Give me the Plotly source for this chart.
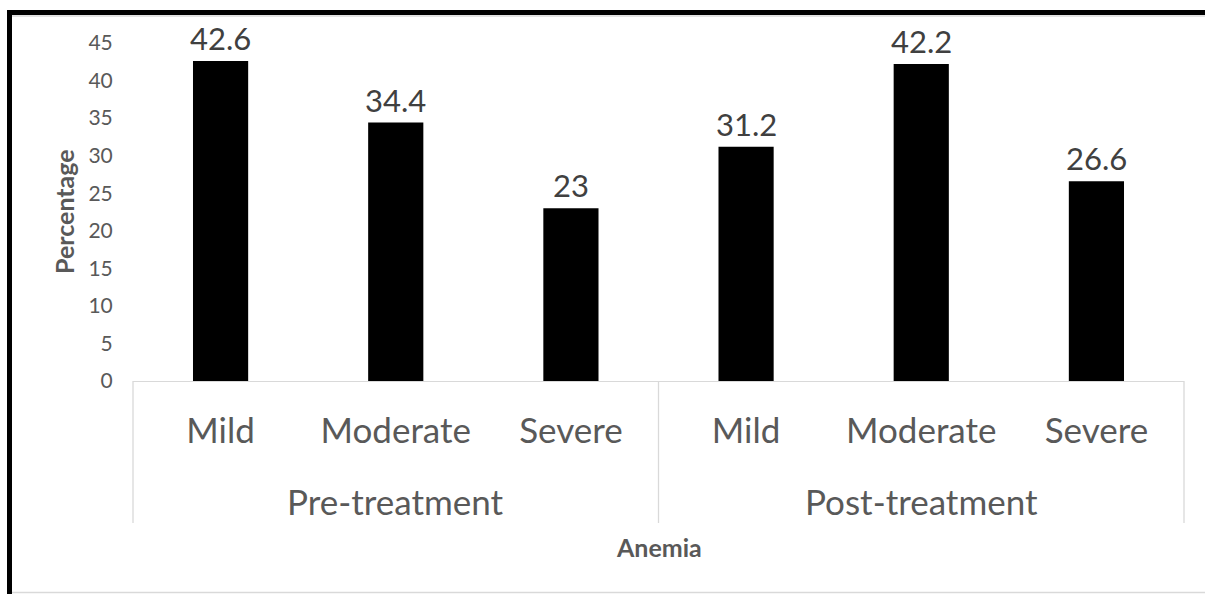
import plotly.graph_objects as go

# Anemia severity before and after treatment (percent of patients)
groups = ["Pre-treatment", "Post-treatment"]
severity = ["Mild", "Moderate", "Severe"]
pre_values = [42.6, 34.4, 23]
post_values = [31.2, 42.2, 26.6]

values = pre_values + post_values
tick_text = severity * len(groups)
positions = list(range(len(values)))

W, H = 1205, 594
L, R, T, B = 133, 21, 43, 213
PW, PH = W - L - R, H - T - B
x_range = [-0.5, len(values) - 0.5]
y_range = [0, 45]

FONT = "Lato, Carlito, Calibri, sans-serif"
GREY_TXT = "#595959"
GRID = "#d9d9d9"


def px_x(px):
    return (px - L) / PW


def px_y(py):
    return (H - B - py) / PH


def data_to_paper_x(v):
    return (v - x_range[0]) / (x_range[1] - x_range[0])


fig = go.Figure(
    go.Bar(
        x=positions,
        y=values,
        width=0.315,
        marker=dict(color="#000000", line=dict(width=0)),
        hoverinfo="skip",
    )
)

annotations = []
# value labels above each bar
for xv, yv in zip(positions, values):
    annotations.append(dict(
        x=xv, y=yv, xref="x", yref="y", text=f"{yv:g}", showarrow=False,
        yanchor="bottom", yshift=2, font=dict(family=FONT, size=31, color="#404040"),
    ))

# group labels under the category labels
n = len(severity)
for gi, g in enumerate(groups):
    annotations.append(dict(
        x=gi * n + (n - 1) / 2, y=px_y(501), xref="x", yref="paper", text=g,
        showarrow=False, yanchor="middle",
        font=dict(family=FONT, size=35, color=GREY_TXT),
    ))

# axis titles
annotations.append(dict(
    x=0.5, y=px_y(547), xref="paper", yref="paper", text="<b>Anemia</b>",
    showarrow=False, yanchor="middle", font=dict(family=FONT, size=25, color=GREY_TXT),
))
annotations.append(dict(
    x=px_x(64), y=0.5, xref="paper", yref="paper", text="<b>Percentage</b>",
    showarrow=False, textangle=-90, xanchor="center", yanchor="middle",
    font=dict(family=FONT, size=25, color=GREY_TXT),
))

shapes = []
# group dividers below the category axis
for k in range(len(groups) + 1):
    xp = data_to_paper_x(k * n - 0.5)
    shapes.append(dict(
        type="line", xref="paper", yref="paper", x0=xp, x1=xp,
        y0=0, y1=px_y(523), line=dict(color=GRID, width=1.3),
    ))

# chart frame: light outer edge plus heavy black top/left rule
shapes.append(dict(type="line", xref="paper", yref="paper",
                   x0=px_x(12), x1=px_x(W + 5), y0=px_y(16), y1=px_y(16),
                   line=dict(color=GRID, width=1.5)))
shapes.append(dict(type="line", xref="paper", yref="paper",
                   x0=px_x(12), x1=px_x(W + 5), y0=px_y(592.5), y1=px_y(592.5),
                   line=dict(color=GRID, width=1.5)))
shapes.append(dict(type="line", xref="paper", yref="paper",
                   x0=px_x(7), x1=px_x(W + 5), y0=px_y(12.5), y1=px_y(12.5),
                   line=dict(color="#000000", width=5)))
shapes.append(dict(type="line", xref="paper", yref="paper",
                   x0=px_x(9.5), x1=px_x(9.5), y0=px_y(10), y1=px_y(H + 5),
                   line=dict(color="#000000", width=5)))

fig.update_layout(
    width=W, height=H,
    margin=dict(l=L, r=R, t=T, b=B, pad=0),
    paper_bgcolor="#ffffff", plot_bgcolor="#ffffff",
    showlegend=False,
    font=dict(family=FONT, color=GREY_TXT),
    annotations=annotations,
    shapes=shapes,
    xaxis=dict(
        range=x_range, tickmode="array", tickvals=positions, ticktext=tick_text,
        showgrid=False, zeroline=False, showline=True, linecolor=GRID, linewidth=1.3,
        ticks="outside", ticklen=19, tickcolor="rgba(0,0,0,0)",
        tickfont=dict(family=FONT, size=35, color=GREY_TXT), fixedrange=True,
    ),
    yaxis=dict(
        range=y_range, dtick=5, tick0=0, showgrid=False, zeroline=False,
        showline=False, ticks="outside", ticklen=15, tickcolor="rgba(0,0,0,0)",
        tickfont=dict(family=FONT, size=21, color=GREY_TXT), fixedrange=True,
    ),
)

fig.write_html("out.html", config={"displayModeBar": False})
